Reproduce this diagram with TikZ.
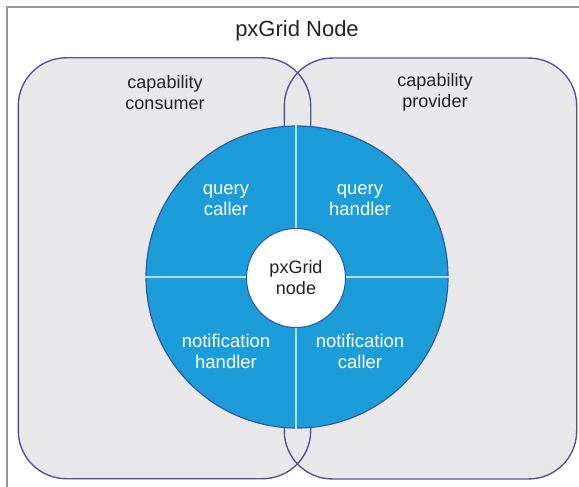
\documentclass[tikz,border=0pt]{standalone}
\usepackage{fontspec}
\setmainfont{Liberation Sans}
\definecolor{framegray}{RGB}{150,150,150}
\definecolor{boxfill}{RGB}{232,232,235}
\definecolor{boxline}{RGB}{80,82,158}
\definecolor{ciscoblue}{RGB}{28,157,218}
\definecolor{circline}{RGB}{45,90,165}
\definecolor{divline}{RGB}{175,222,245}
\definecolor{darktext}{RGB}{35,35,35}
\tikzset{
  capbox/.style={rectangle, rounded corners=48pt, minimum width=291pt, minimum height=419.5pt, inner sep=0pt, line width=1.4pt},
  titletext/.style={font=\fontsize{22}{26}\selectfont, text=darktext},
  graytext/.style={font=\fontsize{18}{21}\selectfont, text=darktext, align=center},
  bluetext/.style={font=\fontsize{18.5}{21}\selectfont, text=white, align=center},
  divider/.style={draw=divline, line width=1.6pt},
  hubstyle/.style={circle, fill=white, draw=circline, line width=1pt, minimum size=99pt, inner sep=0pt},
}
\begin{document}
\begin{tikzpicture}[x=1pt,y=-1pt]
\useasboundingbox (0,0) rectangle (579,487);
\begin{scope}
\clip (0,0) rectangle (579,487);
\fill[white] (0,0) rectangle (579,487);
\draw[framegray, line width=2pt] (6.5,7) rectangle (600,510);
\end{scope}
% boxes: fill first, outlines after
\node[capbox, fill=boxfill] (consumer) at (164.5,268.25) {};
\node[capbox, fill=boxfill] (provider) at (430.5,268.5) {};
\draw[boxline, line width=1.4pt, rounded corners=48pt] (consumer.north west) rectangle (consumer.south east);
\draw[boxline, line width=1.4pt, rounded corners=48pt] (provider.north west) rectangle (provider.south east);
% title and box labels
\node[titletext] (title) at (297,31) {pxGrid Node};
\node[graytext] (consumerlabel) at (165,92.5) {capability\\consumer};
\node[graytext] (providerlabel) at (435,92.5) {capability\\provider};
% circle
\node[circle, fill=ciscoblue, draw=circline, line width=1.2pt, minimum size=302pt, inner sep=0pt] (ring) at (297,277) {};
\node[hubstyle] (hub) at (296,278) {};
\draw[divider] (hub.center |- ring.north) -- (hub.north);
\draw[divider] (hub.south) -- (hub.center |- ring.south);
\draw[divider] (ring.west) -- (ring.west -| hub.west);
\draw[divider] (ring.east -| hub.east) -- (ring.east);
\node[hubstyle] (hubtop) at (hub) {};
% labels
\node[graytext] (hublabel) at (hubtop) {pxGrid\\node};
\node[bluetext] (qcaller) at (226,200) {query\\caller};
\node[bluetext] (qhandler) at (360,200) {query\\handler};
\node[bluetext] (nhandler) at (226,351.5) {notification\\handler};
\node[bluetext] (ncaller) at (360,351.5) {notification\\caller};
\end{tikzpicture}
\end{document}
